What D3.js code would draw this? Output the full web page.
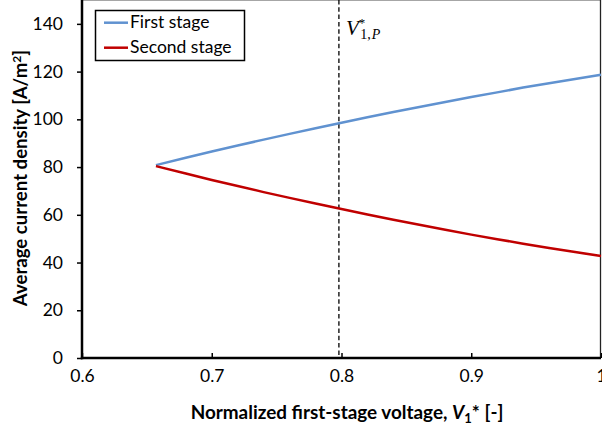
<!DOCTYPE html>
<html>
<head>
<meta charset="utf-8">
<script src="https://cdn.jsdelivr.net/npm/d3@7"></script>
<style>
  html, body { margin: 0; padding: 0; background: #fff; }
  svg { display: block; }
  text { font-family: Lato, "Open Sans", sans-serif; fill: #000; }
</style>
</head>
<body>
<svg id="chart" width="602" height="429"></svg>
<script>
// Normalized first-stage voltage V1* (x) and average current densities (y, A/m²)
const voltage = [0.657, 0.68, 0.70, 0.72, 0.74, 0.76, 0.78, 0.80, 0.82, 0.84, 0.86,
                 0.88, 0.90, 0.92, 0.94, 0.96, 0.98, 1.00];
const firstStage = [80.8, 83.9, 86.5, 89.0, 91.5, 93.9, 96.3, 98.6, 100.9, 103.1, 105.2,
                    107.3, 109.4, 111.3, 113.3, 115.1, 116.9, 118.7];
const secondStage = [80.4, 77.3, 74.6, 72.1, 69.5, 67.1, 64.7, 62.4, 60.1, 57.9, 55.8,
                     53.7, 51.7, 49.8, 47.9, 46.1, 44.4, 42.7];
const seriesNames = ["First stage", "Second stage"];
const seriesColors = ["#6092d0", "#c00000"];
const xTicks = [0.6, 0.7, 0.8, 0.9, 1.0];
const xTickLabels = ["0.6", "0.7", "0.8", "0.9", "1"];
const yTicks = [0, 20, 40, 60, 80, 100, 120, 140];
const vPeak = 0.798;   // position of the V*_{1,P} marker

const svg = d3.select("#chart");
const plotL = 82, plotR = 601, plotT = 0, plotB = 358;

const x = d3.scaleLinear().domain([0.6, 1.0]).range([plotL, plotR]);
const y = d3.scaleLinear().domain([0, 150]).range([plotB, plotT]);

// plot frame (top and right)
svg.append("line").attr("x1", plotL).attr("x2", plotR).attr("y1", 0.5).attr("y2", 0.5)
  .attr("stroke", "#a6a6a6").attr("stroke-width", 1.2);
svg.append("line").attr("x1", plotR - 0.5).attr("x2", plotR - 0.5).attr("y1", 0).attr("y2", plotB)
  .attr("stroke", "#222").attr("stroke-width", 1.3);

// dashed vertical marker
svg.append("line")
  .attr("x1", x(vPeak)).attr("x2", x(vPeak))
  .attr("y1", y(150)).attr("y2", y(0))
  .attr("stroke", "#000").attr("stroke-width", 1.3)
  .attr("stroke-dasharray", "4.5,2.8");

// V*_{1,P} label
const mlabel = svg.append("text")
  .attr("x", x(vPeak) + 7).attr("y", 35)
  .style("font-family", "'Liberation Serif', 'DejaVu Serif', serif")
  .style("font-style", "italic")
  .style("font-size", "21px");
mlabel.append("tspan").text("V");
mlabel.append("tspan").attr("dy", -8).style("font-size", "13px").style("font-style", "normal").text("*");
mlabel.append("tspan").attr("dx", -5).attr("dy", 12).style("font-size", "14px").style("font-style", "normal").text("1,");
mlabel.append("tspan").attr("dx", 1).style("font-size", "14px").text("P");

// series lines
const line = d3.line().x(d => x(d[0])).y(d => y(d[1]));
[firstStage, secondStage].forEach((vals, i) => {
  svg.append("path")
    .datum(voltage.map((v, j) => [v, vals[j]]))
    .attr("fill", "none")
    .attr("stroke", seriesColors[i])
    .attr("stroke-width", 2.5)
    .attr("stroke-linejoin", "round")
    .attr("d", line);
});

// y axis: outward ticks
const yAxis = svg.append("g").attr("transform", `translate(${plotL},0)`)
  .call(d3.axisLeft(y).tickValues(yTicks).tickSize(5).tickPadding(14).tickSizeOuter(0));
yAxis.select(".domain").remove();
yAxis.selectAll(".tick line").attr("stroke", "#000").attr("stroke-width", 1.5);
yAxis.selectAll("text").style("font-size", "17.5px").style("font-family", "Lato, sans-serif");
svg.append("line").attr("x1", plotL).attr("x2", plotL).attr("y1", 0).attr("y2", plotB + 1.2)
  .attr("stroke", "#000").attr("stroke-width", 2.5);

// x axis: inward ticks
const xAxis = svg.append("g").attr("transform", `translate(0,${plotB})`)
  .call(d3.axisBottom(x).tickValues(xTicks).tickFormat((d, i) => xTickLabels[i])
    .tickSizeInner(-5).tickSizeOuter(0).tickPadding(12));
xAxis.select(".domain").remove();
xAxis.selectAll(".tick line").attr("stroke", "#000").attr("stroke-width", 1.5);
xAxis.selectAll("text").style("font-size", "17.5px").style("font-family", "Lato, sans-serif");
svg.append("line").attr("x1", plotL - 1.2).attr("x2", plotR).attr("y1", plotB).attr("y2", plotB)
  .attr("stroke", "#000").attr("stroke-width", 2.5);

// axis titles
const xt = svg.append("text")
  .attr("x", 347).attr("y", 419)
  .attr("text-anchor", "middle")
  .style("font-size", "18.9px").style("font-weight", "bold");
xt.append("tspan").text("Normalized first-stage voltage, ");
xt.append("tspan").style("font-style", "italic").text("V");
xt.append("tspan").attr("dy", 4).style("font-size", "13px").text("1");
xt.append("tspan").attr("dy", -4).text("* [-]");

const yt = svg.append("text")
  .attr("transform", `translate(27,178) rotate(-90)`)
  .attr("text-anchor", "middle")
  .style("font-size", "18.6px").style("font-weight", "bold");
yt.append("tspan").text("Average current density [A/m");
yt.append("tspan").attr("dy", -6).style("font-size", "12px").text("2");
yt.append("tspan").attr("dy", 6).text("]");

// legend
const lg = svg.append("g");
lg.append("rect").attr("x", 95.5).attr("y", 10.5).attr("width", 149).attr("height", 50)
  .attr("fill", "#fff").attr("stroke", "#000").attr("stroke-width", 1.5);
seriesNames.forEach((name, i) => {
  const ly = 22.7 + i * 25;
  lg.append("line").attr("x1", 104).attr("x2", 128).attr("y1", ly).attr("y2", ly)
    .attr("stroke", seriesColors[i]).attr("stroke-width", 2.5);
  lg.append("text").attr("x", 130).attr("y", ly + 5.5)
    .style("font-size", "17.5px").text(name);
});
</script>
</body>
</html>
